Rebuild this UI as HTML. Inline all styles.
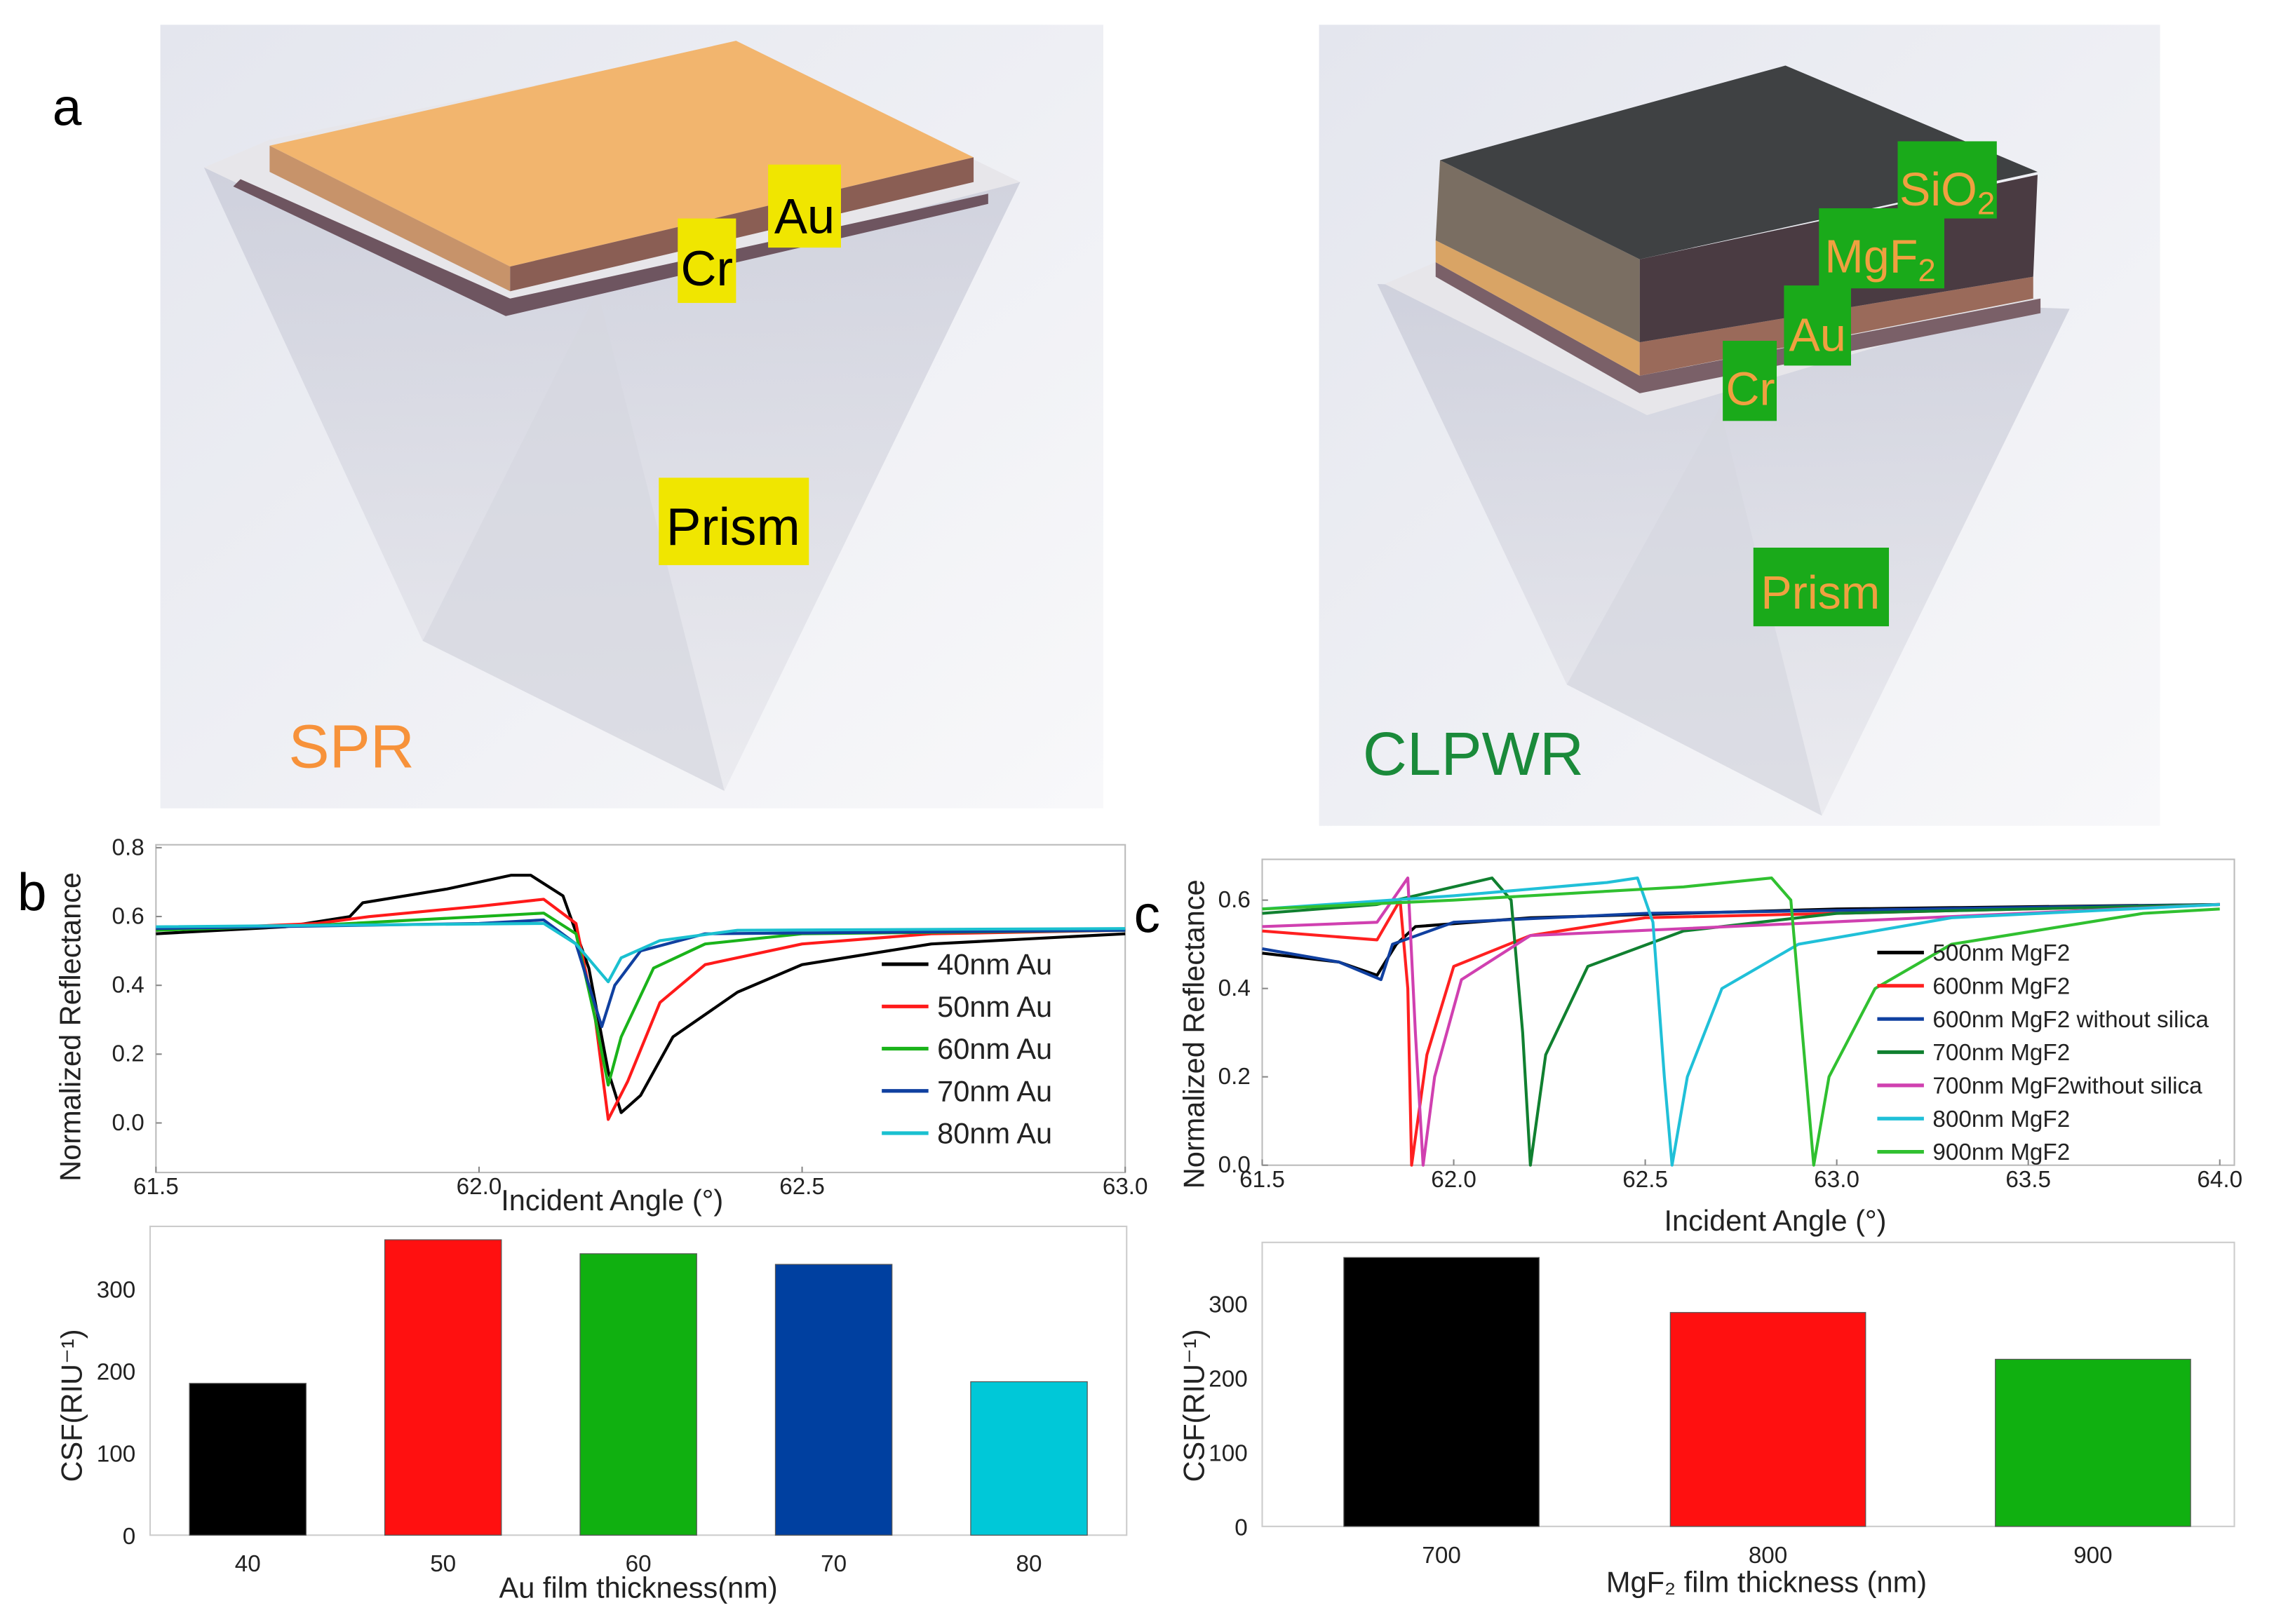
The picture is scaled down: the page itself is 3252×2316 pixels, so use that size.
<!DOCTYPE html>
<html><head><meta charset="utf-8"><style>
html,body{margin:0;padding:0;background:#fff}
svg{display:block}
text{font-family:"Liberation Sans",sans-serif}
</style></head><body>
<svg id="fig" width="3252" height="2316" viewBox="0 0 1565 1115" preserveAspectRatio="none">
<defs>
<linearGradient id="bgL" x1="0" y1="0" x2="1" y2="1"><stop offset="0" stop-color="#e4e6ee"/><stop offset="1" stop-color="#f8f8fa"/></linearGradient>
<linearGradient id="pr" x1="0" y1="0" x2="0" y2="1"><stop offset="0" stop-color="#c9cbd8"/><stop offset="1" stop-color="#e9e9ee"/></linearGradient>
</defs>
<g>
<rect x="110" y="17" width="647" height="538" fill="url(#bgL)"/>
<polygon points="140,115 700,125 497,543 290,440" fill="url(#pr)" opacity="0.8"/>
<polygon points="290,440 497,543 410,200" fill="#d6d7e0" opacity="0.7"/>
<polygon points="140,115 185,96 505,30 700,125 350,215" fill="#e7e6ea"/>
<polygon points="165,123 350,205 678,133 678,140 347,217 160,128" fill="#6e5560"/>
<polygon points="185,100 505,28 668,108 350,183" fill="#f2b56e"/>
<polygon points="185,100 350,183 350,200 185,118" fill="#c7936a"/>
<polygon points="350,183 668,108 668,125 350,200" fill="#8a5e54"/>
<rect x="527" y="113" width="50" height="57" fill="#f0e600"/>
<text x="552" y="160" font-size="34" text-anchor="middle">Au</text>
<rect x="465" y="150" width="40" height="58" fill="#f0e600"/>
<text x="485" y="196" font-size="34" text-anchor="middle">Cr</text>
<rect x="452" y="328" width="103" height="60" fill="#f0e600"/>
<text x="503" y="374" font-size="36" text-anchor="middle">Prism</text>
<text x="198" y="527" font-size="42" fill="#f7923a">SPR</text>
</g>
<text x="36" y="86" font-size="36">a</text>
<g>
<rect x="905" y="17" width="577" height="550" fill="url(#bgL)"/>
<polygon points="945,195 1420,212 1250,560 1075,470" fill="url(#pr)" opacity="0.8"/>
<polygon points="1075,470 1250,560 1180,280" fill="#d6d7e0" opacity="0.7"/>
<polygon points="950,195 985,180 1400,205 1130,285" fill="#e7e6ea"/>
<polygon points="985,180 1125,258 1400,205 1400,215 1125,270 985,190" fill="#7a6068"/>
<polygon points="985,180 1125,258 1125,235 985,165" fill="#d9a465"/>
<polygon points="1125,258 1395,205 1395,190 1125,235" fill="#9a6a5a"/>
<polygon points="988,110 1125,178 1125,235 985,165" fill="#7a6e62"/>
<polygon points="1125,178 1398,120 1395,190 1125,235" fill="#4a3b42"/>
<polygon points="988,110 1225,45 1398,118 1125,178" fill="#3f4143"/>
<rect x="1302" y="97" width="68" height="53" fill="#1aaa1a"/>
<text x="1336" y="141" font-size="32" fill="#f0a040" text-anchor="middle">SiO<tspan font-size="22" dy="6">2</tspan></text>
<rect x="1248" y="143" width="86" height="55" fill="#1aaa1a"/>
<text x="1290" y="187" font-size="32" fill="#f0a040" text-anchor="middle">MgF<tspan font-size="22" dy="6">2</tspan></text>
<rect x="1224" y="196" width="46" height="55" fill="#1aaa1a"/>
<text x="1247" y="241" font-size="32" fill="#f0a040" text-anchor="middle">Au</text>
<rect x="1182" y="234" width="37" height="55" fill="#1aaa1a"/>
<text x="1201" y="278" font-size="32" fill="#f0a040" text-anchor="middle">Cr</text>
<rect x="1203" y="376" width="93" height="54" fill="#1aaa1a"/>
<text x="1249" y="418" font-size="32" fill="#f0a040" text-anchor="middle">Prism</text>
<text x="935" y="532" font-size="42" fill="#1a8a3a">CLPWR</text>
</g>
<text x="12" y="625" font-size="36">b</text>
<text x="778" y="640" font-size="36">c</text>
<g id="charts"></g>
</svg>
<script>
const bSeriesNames = ["40nm Au","50nm Au","60nm Au","70nm Au","80nm Au"];
const bColors = ["#000000","#ff1a1a","#1ab31a","#1040a0","#1ac0d0"];
const bX40 = [61.5,61.7,61.8,61.82,61.95,62.05,62.08,62.13,62.17,62.2,62.22,62.25,62.3,62.4,62.5,62.7,63.0];
const bY40 = [0.55,0.57,0.6,0.64,0.68,0.72,0.72,0.66,0.45,0.15,0.03,0.08,0.25,0.38,0.46,0.52,0.55];
const bX50 = [61.5,61.75,61.83,62.0,62.1,62.15,62.18,62.2,62.23,62.28,62.35,62.5,62.7,63.0];
const bY50 = [0.56,0.58,0.6,0.63,0.65,0.58,0.3,0.01,0.12,0.35,0.46,0.52,0.55,0.56];
const bX60 = [61.5,61.75,62.0,62.1,62.15,62.18,62.2,62.22,62.27,62.35,62.5,63.0];
const bY60 = [0.56,0.575,0.6,0.61,0.55,0.3,0.11,0.25,0.45,0.52,0.55,0.56];
const bX70 = [61.5,62.0,62.1,62.15,62.19,62.21,62.25,62.35,63.0];
const bY70 = [0.565,0.58,0.59,0.52,0.28,0.4,0.5,0.55,0.56];
const bX80 = [61.5,62.1,62.15,62.2,62.22,62.28,62.4,63.0];
const bY80 = [0.57,0.58,0.52,0.41,0.48,0.53,0.56,0.565];
const bXTicks = [61.5,62.0,62.5,63.0];
const bYTicks = [0.0,0.2,0.4,0.6,0.8];
const bBarCats = ["40","50","60","70","80"];
const bBarVals = [185,360,343,330,187];
const bBarColors = ["#000000","#ff1010","#10b010","#0040a0","#00c8d8"];
const bBarTicks = [0,100,200,300];
const cSeriesNames = ["500nm MgF2","600nm MgF2","600nm MgF2 without silica","700nm MgF2","700nm MgF2without silica","800nm MgF2","900nm MgF2"];
const cColors = ["#000000","#ff2020","#1040a0","#108030","#d040b0","#20c0d8","#30c030"];
const cX500 = [61.5,61.7,61.8,61.85,61.9,62.2,63.0,64.0];
const cY500 = [0.48,0.46,0.43,0.5,0.54,0.56,0.58,0.59];
const cX600 = [61.5,61.8,61.86,61.88,61.89,61.93,62.0,62.2,62.5,64.0];
const cY600 = [0.53,0.51,0.6,0.4,0.0,0.25,0.45,0.52,0.56,0.59];
const cX600w = [61.5,61.7,61.81,61.84,62.0,62.5,64.0];
const cY600w = [0.49,0.46,0.42,0.5,0.55,0.57,0.59];
const cX700 = [61.5,61.8,62.0,62.1,62.15,62.18,62.2,62.24,62.35,62.6,63.0,64.0];
const cY700 = [0.57,0.59,0.63,0.65,0.6,0.3,0.0,0.25,0.45,0.53,0.57,0.59];
const cX700w = [61.5,61.8,61.88,61.9,61.92,61.95,62.02,62.2,64.0];
const cY700w = [0.54,0.55,0.65,0.3,0.0,0.2,0.42,0.52,0.59];
const cX800 = [61.5,62.0,62.4,62.48,62.52,62.55,62.57,62.61,62.7,62.9,63.3,64.0];
const cY800 = [0.58,0.61,0.64,0.65,0.55,0.2,0.0,0.2,0.4,0.5,0.56,0.59];
const cX900 = [61.5,62.0,62.6,62.83,62.88,62.92,62.94,62.98,63.1,63.3,63.8,64.0];
const cY900 = [0.58,0.6,0.63,0.65,0.6,0.2,0.0,0.2,0.4,0.5,0.57,0.58];
const cXTicks = [61.5,62.0,62.5,63.0,63.5,64.0];
const cYTicks = [0.0,0.2,0.4,0.6];
const cBarCats = ["700","800","900"];
const cBarVals = [362,288,225];
const cBarColors = ["#000000","#ff1010","#10b010"];
const cBarTicks = [0,100,200,300];

const NS="http://www.w3.org/2000/svg";
const root=document.getElementById('charts');
function mk(tag,attrs,parent){const e=document.createElementNS(NS,tag);for(const k in attrs)e.setAttribute(k,attrs[k]);(parent||root).appendChild(e);return e;}
function txt(x,y,s,size,anchor,parent){const t=mk('text',{x:x,y:y,'font-size':size,'text-anchor':anchor||'start',fill:'#222'},parent);t.textContent=s;return t;}
function lin(d0,d1,r0,r1){return v=>r0+(v-d0)/(d1-d0)*(r1-r0);}

function lineChart(name,box,xd,yd,xT,yT,xs,ys,colors,xFmt,yFmt){
  const g=mk('g',{});
  
  
  const X=lin(xd[0],xd[1],box.x0,box.x1), Y=lin(yd[0],yd[1],box.y0,box.y1);
  const fr=mk('rect',{x:box.l,y:box.t,width:box.r-box.l,height:box.b-box.t,fill:'none',stroke:'#bbb','stroke-width':1},g);
  
  
  xT.forEach(v=>{const t=txt(X(v),box.b+15,xFmt(v),16,'middle',g);
    mk('line',{x1:X(v),x2:X(v),y1:box.b,y2:box.b-4,stroke:'#888'},g);});
  yT.forEach(v=>{const t=txt(box.l-8,Y(v)+5,yFmt(v),16,'end',g);
    mk('line',{x1:box.l,x2:box.l+4,y1:Y(v),y2:Y(v),stroke:'#888'},g);});
  xs.forEach((xa,i)=>{const p=xa.map((x,j)=>X(x).toFixed(1)+','+Y(ys[i][j]).toFixed(1)).join(' ');
    const pl=mk('polyline',{points:p,fill:'none',stroke:colors[i],'stroke-width':2,'stroke-linejoin':'round'},g);
    
    });
  return {g,X,Y};
}
function legend(x,y,step,names,colors,size,lineLen){
  const g=mk('g',{});
  
  
  names.forEach((n,i)=>{const yy=y+i*step;
    mk('line',{x1:x,x2:x+lineLen,y1:yy,y2:yy,stroke:colors[i],'stroke-width':2.5},g);
    const t=txt(x+lineLen+6,yy+size*0.35,n,size,'start',g);
    
    });
}
function barChart(name,box,ymax,cats,vals,cols,ticks,centers,bw){
  const g=mk('g',{});
  
  
  const Y=lin(0,ymax.v,box.b,ymax.y);
  const fr=mk('rect',{x:box.l,y:box.t,width:box.r-box.l,height:box.b-box.t,fill:'none',stroke:'#ccc'},g);
  
  
  ticks.forEach(v=>{const t=txt(box.l-10,Y(v)+6,String(v),16,'end',g);});
  cats.forEach((c,i)=>{const cx=centers[i];
    const r=mk('rect',{x:cx-bw/2,y:Y(vals[i]),width:bw,height:box.b-Y(vals[i]),fill:cols[i],stroke:'#555','stroke-width':0.6},g);
    
    
    const t=txt(cx,box.b+25,c,16,'middle',g);});
}
lineChart('reflectance-chart-b',{l:107,r:772,t:580,b:805,x0:107,x1:772,y0:771,y1:582},[61.5,63.0],[0,0.8],bXTicks,bYTicks,
  [bX40,bX50,bX60,bX70,bX80],[bY40,bY50,bY60,bY70,bY80],bColors,v=>v.toFixed(1),v=>v.toFixed(1));
legend(605,662,29,bSeriesNames,bColors,20,32);
let t=txt(0,0,'Normalized Reflectance',20,'middle');t.setAttribute('transform','translate(55,705) rotate(-90)');


t=txt(420,831,'Incident Angle (°)',20,'middle');


barChart('csf-bar-chart-b',{l:103,r:773,t:842,b:1054},{v:300,y:885},bBarCats,bBarVals,bBarColors,bBarTicks,[170,304,438,572,706],80);
t=txt(0,0,'CSF(RIU⁻¹)',20,'middle');t.setAttribute('transform','translate(56,965) rotate(-90)');


t=txt(438,1097,'Au film thickness(nm)',20,'middle');


lineChart('reflectance-chart-c',{l:866,r:1533,t:590,b:800,x0:866,x1:1523,y0:800,y1:618},[61.5,64.0],[0,0.6],cXTicks,cYTicks,
  [cX500,cX600,cX600w,cX700,cX700w,cX800,cX900],[cY500,cY600,cY600w,cY700,cY700w,cY800,cY900],cColors,v=>v.toFixed(1),v=>v.toFixed(1));
legend(1288,654,22.8,cSeriesNames,cColors,16,32);
t=txt(0,0,'Normalized Reflectance',20,'middle');t.setAttribute('transform','translate(826,710) rotate(-90)');


t=txt(1218,845,'Incident Angle (°)',20,'middle');


barChart('csf-bar-chart-c',{l:866,r:1533,t:853,b:1048},{v:300,y:895},cBarCats,cBarVals,cBarColors,cBarTicks,[989,1213,1436],134);
t=txt(0,0,'CSF(RIU⁻¹)',20,'middle');t.setAttribute('transform','translate(826,965) rotate(-90)');


t=txt(1212,1093,'MgF₂ film thickness (nm)',20,'middle');


</script>
</body></html>
